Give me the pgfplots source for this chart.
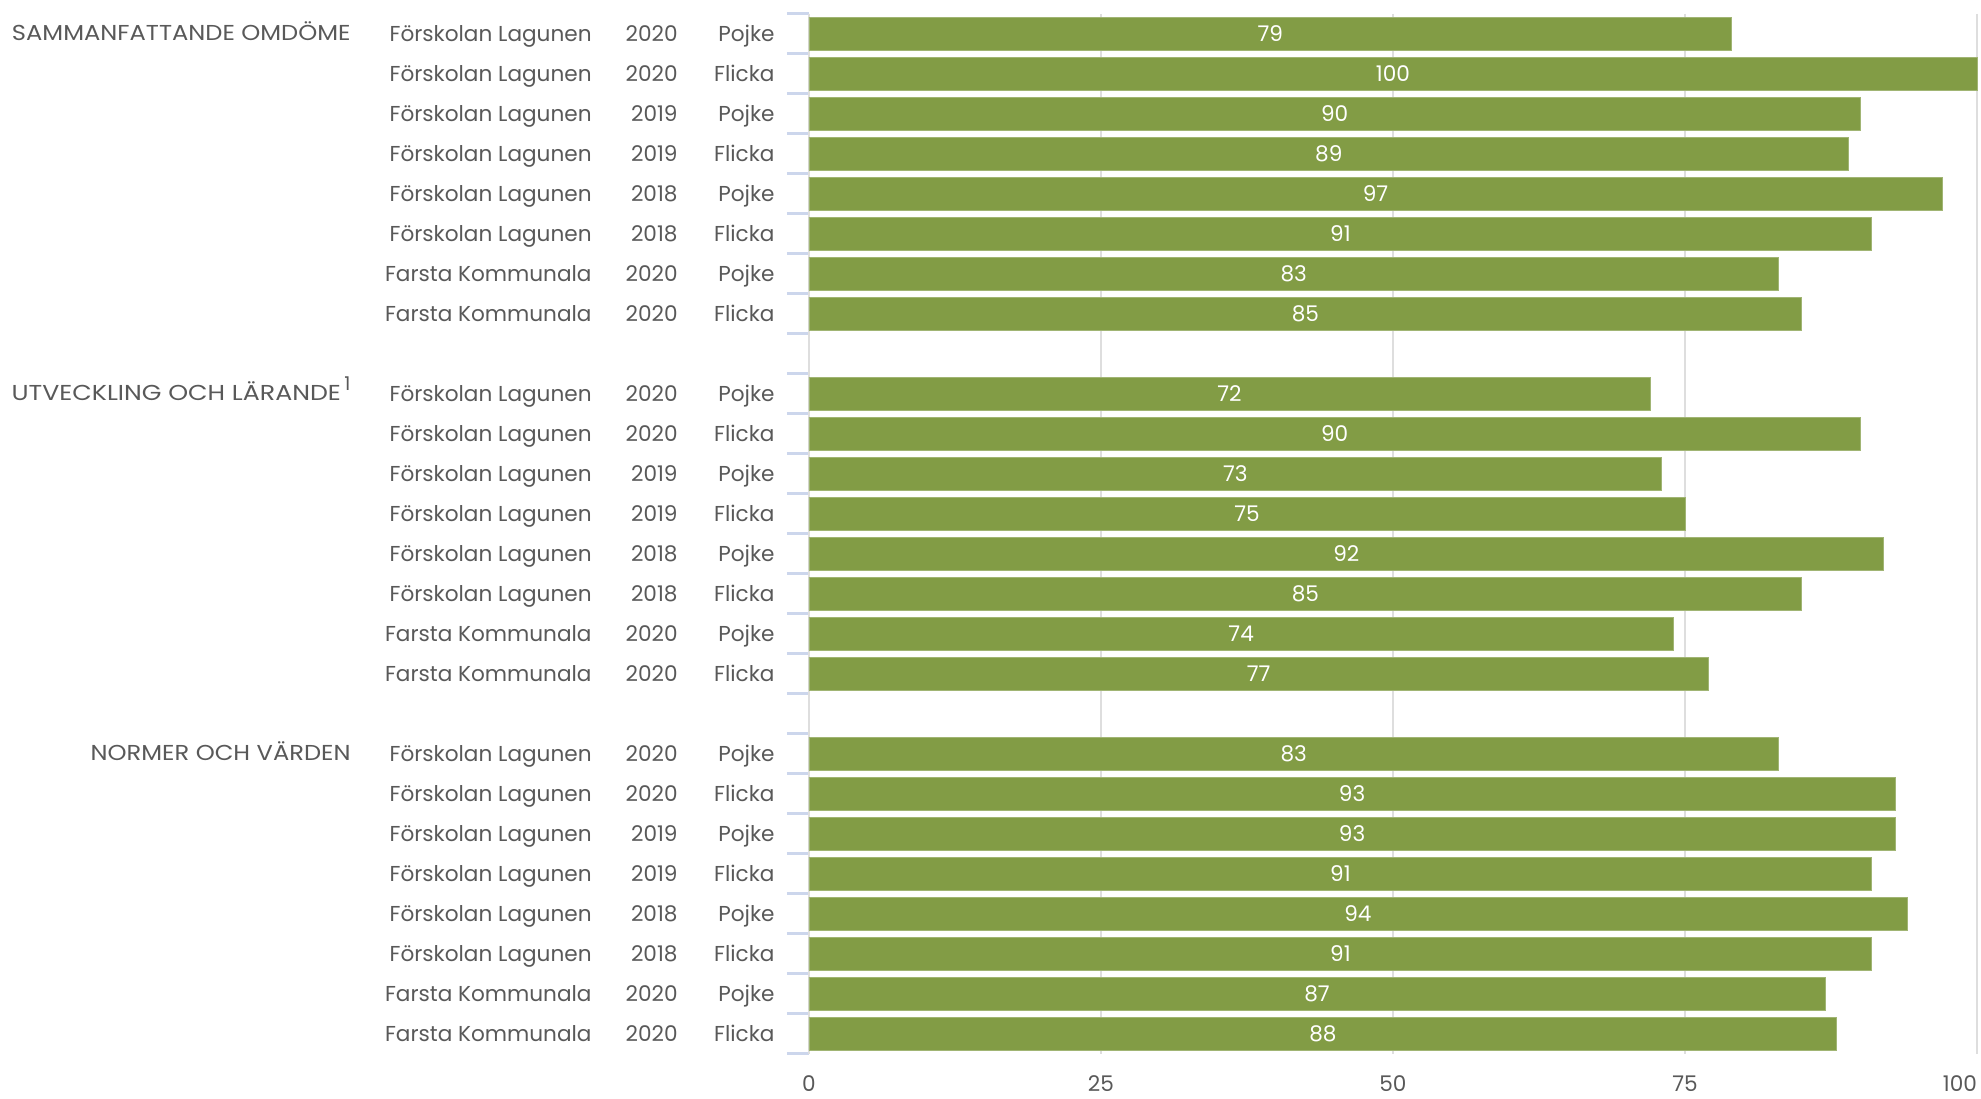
\documentclass[border=0pt]{standalone}
\usepackage{pgfplots}
\pgfplotsset{compat=1.18}
\usepackage{pgfplotstable}
\usepackage{fontspec}
\setmainfont{Poppins}
\definecolor{barc}{HTML}{829C45}
\definecolor{txt}{HTML}{595959}
\definecolor{gridc}{HTML}{DEDEDE}
\definecolor{tickc}{HTML}{CCD6EC}
\pgfplotstableread[col sep=comma]{
r,v,school,year,gender
0,79,Förskolan Lagunen,2020,Pojke
1,100,Förskolan Lagunen,2020,Flicka
2,90,Förskolan Lagunen,2019,Pojke
3,89,Förskolan Lagunen,2019,Flicka
4,97,Förskolan Lagunen,2018,Pojke
5,91,Förskolan Lagunen,2018,Flicka
6,83,Farsta Kommunala,2020,Pojke
7,85,Farsta Kommunala,2020,Flicka
9,72,Förskolan Lagunen,2020,Pojke
10,90,Förskolan Lagunen,2020,Flicka
11,73,Förskolan Lagunen,2019,Pojke
12,75,Förskolan Lagunen,2019,Flicka
13,92,Förskolan Lagunen,2018,Pojke
14,85,Förskolan Lagunen,2018,Flicka
15,74,Farsta Kommunala,2020,Pojke
16,77,Farsta Kommunala,2020,Flicka
18,83,Förskolan Lagunen,2020,Pojke
19,93,Förskolan Lagunen,2020,Flicka
20,93,Förskolan Lagunen,2019,Pojke
21,91,Förskolan Lagunen,2019,Flicka
22,94,Förskolan Lagunen,2018,Pojke
23,91,Förskolan Lagunen,2018,Flicka
24,87,Farsta Kommunala,2020,Pojke
25,88,Farsta Kommunala,2020,Flicka
}\data
\begin{document}
\fontsize{10.8}{13}\selectfont
\begin{tikzpicture}[font=\fontsize{10.8}{13}\selectfont]
\begin{axis}[
  at={(0,0)}, anchor=south west,
  scale only axis, width=584pt, height=520pt,
  xmin=0, xmax=100, ymin=-0.5, ymax=25.5, y dir=reverse,
  axis x line*=bottom, axis y line*=left,
  x axis line style={draw=none},
  y axis line style={draw=gridc, line width=0.8pt, -},
  xtick={0,25,50,75,100},
  xticklabels={0,25,50,75,\makebox[0pt][r]{100}},
  xmajorgrids, major grid style={draw=gridc, line width=0.8pt},
  major x tick style={draw=none},
  ytick={-0.5,0.5,...,25.5}, yticklabels={},
  major y tick style={draw=tickc, line width=1.2pt},
  tick align=outside, major tick length=11pt,
  xticklabel style={anchor=base, yshift=-8pt, text=txt, inner sep=0pt},
  clip=false,
]
\addplot[xbar, bar width=16.5pt, fill=barc, draw=barc!75!white, line width=0.4pt] table[x=v, y=r] {\data};
\addplot[only marks, mark=none, point meta=explicit symbolic,
  nodes near coords={\pgfplotspointmeta},
  every node near coord/.append style={anchor=center, text=white, inner sep=0pt}]
  table[x expr=\thisrow{v}/2, y=r, meta=v] {\data};
\addplot[only marks, mark=none, point meta=explicit symbolic,
  nodes near coords={\pgfplotspointmeta},
  every node near coord/.append style={anchor=base east, text=txt, inner sep=0pt, xshift=-108.5pt, yshift=-3.75pt}]
  table[x expr=0, y=r, meta=school] {\data};
\addplot[only marks, mark=none, point meta=explicit symbolic,
  nodes near coords={\pgfplotspointmeta},
  every node near coord/.append style={anchor=base east, text=txt, inner sep=0pt, xshift=-65.5pt, yshift=-3.75pt}]
  table[x expr=0, y=r, meta=year] {\data};
\addplot[only marks, mark=none, point meta=explicit symbolic,
  nodes near coords={\pgfplotspointmeta},
  every node near coord/.append style={anchor=base east, text=txt, inner sep=0pt, xshift=-17pt, yshift=-3.75pt}]
  table[x expr=0, y=r, meta=gender] {\data};
\node[anchor=base east, text=txt, inner sep=0pt] at ([xshift=-229pt, yshift=-3.4pt]axis cs:0,0) {\scalebox{1.12}[1]{SAMMANFATTANDE OMDÖME}};
\node[anchor=base east, text=txt, inner sep=0pt] at ([xshift=-229pt, yshift=-3.4pt]axis cs:0,9) {\scalebox{1.17}[1]{UTVECKLING OCH LÄRANDE}\,\raisebox{5pt}{\fontsize{9.5}{10}\selectfont 1}};
\node[anchor=base east, text=txt, inner sep=0pt] at ([xshift=-229pt, yshift=-3.4pt]axis cs:0,18) {\scalebox{1.12}[1]{NORMER OCH VÄRDEN}};
\end{axis}
\pgfresetboundingbox
\path[use as bounding box] (-404.5pt,-22.25pt) rectangle (586pt,526.75pt);
\end{tikzpicture}
\end{document}
